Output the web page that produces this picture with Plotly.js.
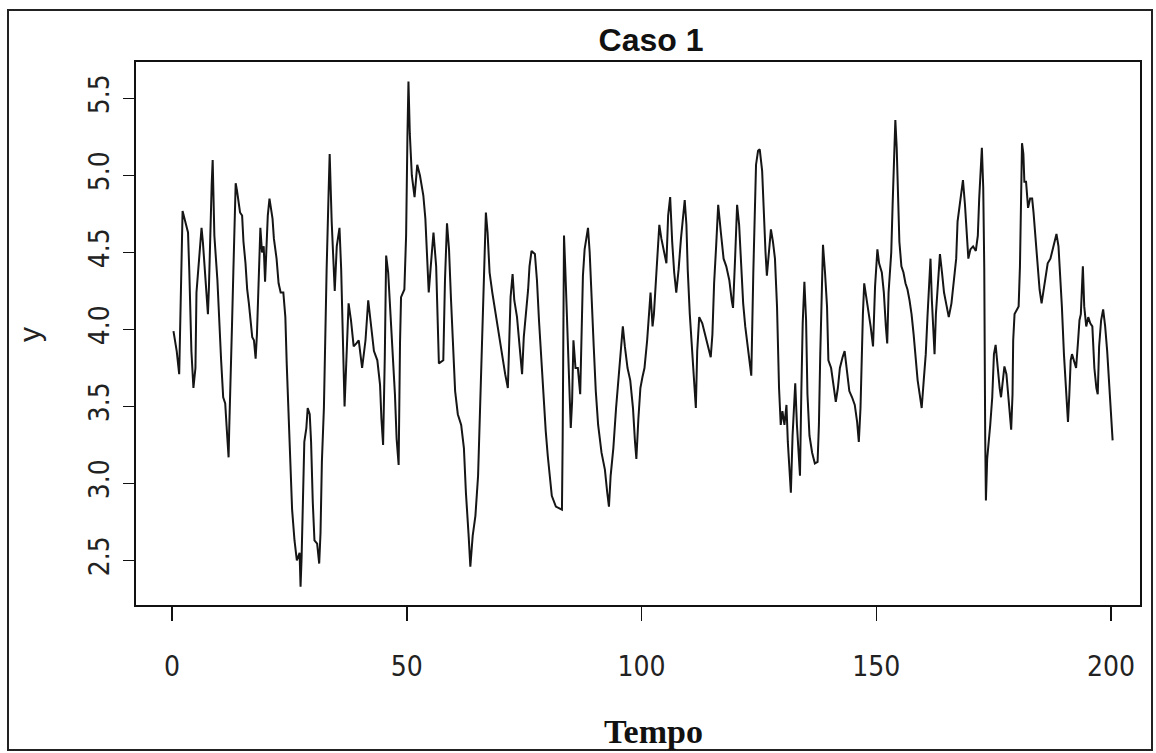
<!DOCTYPE html>
<html>
<head>
<meta charset="utf-8">
<script src="https://cdn.plot.ly/plotly-3.0.1.min.js"></script>
<style>
html,body{margin:0;padding:0;background:#ffffff;}
#chart{width:1156px;height:753px;}
</style>
</head>
<body>
<div id="chart"></div>
<script>
// ---- data ----
const tempo = [
0.31,1.0,1.53,1.97,2.25,2.83,3.41,3.69,4.13,4.56,4.99,5.21,5.71,6.07,6.29,6.57,6.93,7.29,7.65,7.87,
8.09,8.45,8.66,9.02,9.67,10.03,10.46,10.90,11.33,11.69,12.05,12.19,12.55,12.77,13.06,13.34,13.56,13.85,14.21,14.49,
14.93,15.22,15.65,16.01,16.37,16.66,17.09,17.45,17.81,18.09,18.38,18.82,19.17,19.53,19.82,20.11,20.40,20.76,21.12,21.41,
21.70,22.27,22.70,23.14,23.71,24.14,24.43,24.79,25.15,25.58,26.09,26.59,27.17,27.38,27.60,27.89,28.18,28.61,28.90,29.33,
29.62,29.98,30.34,30.91,31.35,31.63,31.92,32.35,32.64,32.93,33.36,33.58,
34.01,34.37,34.66,35.09,35.67,36.03,36.39,36.75,37.11,37.61,38.12,38.69,39.27,39.77,40.49,41.21,41.79,42.29,43.01,43.73,
44.31,44.60,44.96,45.32,45.61,46.04,46.47,46.97,47.48,47.84,48.27,48.56,48.78,49.49,49.86,50.14,50.36,50.65,51.08,51.66,
52.23,52.81,53.53,53.96,54.39,54.68,55.11,55.69,56.26,56.55,56.84,57.78,58.14,58.57,59.00,59.43,59.86,60.30,60.87,61.59,
62.17,62.60,63.18,63.54,64.04,64.62,65.19,65.55,65.84,66.20,66.63,66.85,67.21,67.64,68.22,68.94,
69.52,70.24,70.96,71.53,71.82,72.11,72.54,72.90,73.48,73.98,74.56,74.92,75.42,75.85,76.14,76.57,77.29,77.73,78.16,78.59,
79.02,79.60,80.03,80.46,80.89,81.76,83.05,83.20,83.34,83.49,83.77,84.21,84.64,84.93,85.21,85.50,85.94,86.44,86.94,87.23,
87.52,87.88,88.24,88.60,88.96,89.32,89.82,90.26,90.76,91.48,92.20,92.70,93.06,93.42,94.00,94.58,95.15,95.58,96.02,96.45,
97.02,97.60,98.18,98.61,98.90,99.33,99.76,100.19,100.63,101.20,101.63,101.92,102.35,102.64,103.07,103.50,103.79,104.23,104.70,105.30,
105.67,106.10,106.53,106.96,107.40,107.90,108.40,108.84,109.20,109.56,109.84,110.28,110.78,111.28,111.57,111.86,112.29,112.94,113.66,114.38,
114.74,115.10,115.46,115.89,116.33,116.90,117.48,118.05,118.70,119.21,119.49,119.93,120.36,120.79,121.22,121.65,122.09,122.52,123.02,123.38,
123.81,124.10,124.39,124.82,125.18,125.69,125.98,126.41,126.70,127.13,127.56,127.99,128.42,128.86,129.29,129.65,130.01,130.44,130.87,131.16,
131.52,131.81,132.17,132.46,132.74,133.10,133.46,133.75,134.04,134.33,134.69,135.05,135.34,135.77,136.34,136.92,137.50,137.78,138.07,138.36,
138.65,139.08,139.51,
139.80,140.38,140.88,141.38,141.82,142.25,142.82,143.26,143.76,144.26,144.84,145.42,145.92,146.28,146.64,146.86,147.15,147.43,147.87,148.30,
148.80,149.31,149.74,150.24,150.60,151.18,151.61,152.04,152.33,152.62,152.91,153.19,153.48,153.77,154.06,154.35,154.63,154.92,155.35,155.79,
156.22,156.65,157.08,157.51,157.95,158.38,158.81,159.24,159.67,160.11,160.54,160.90,161.26,161.55,161.84,162.12,162.41,162.70,163.13,163.56,
164.00,164.43,165.00,165.44,166.01,166.59,167.02,167.31,167.74,168.17,168.46,168.89,169.32,169.61,170.04,170.62,171.20,171.63,171.92,172.20,
172.49,172.78,173.00,173.20,173.35,
173.62,173.98,174.27,174.70,175.06,175.42,175.85,176.28,176.57,177.00,177.29,177.72,178.16,178.44,178.73,179.02,179.16,179.45,179.88,180.32,
180.60,180.82,181.04,181.33,181.54,181.90,182.33,182.77,183.20,183.49,183.92,184.35,184.78,185.21,185.65,186.08,186.51,187.09,187.52,187.95,
188.38,188.81,189.10,189.53,189.97,190.40,190.83,191.12,191.41,191.69,192.13,192.56,192.99,193.28,193.57,193.85,194.00,194.29,194.72,195.15,
195.58,196.02,196.45,196.88,197.17,197.46,197.89,198.32,198.75,199.18,199.62,200.05,200.34
];
const y = [
3.99,3.86,3.71,4.49,4.77,4.70,4.63,4.37,3.86,3.62,3.75,4.24,4.46,4.59,4.66,4.57,4.39,4.26,4.10,4.28,
4.59,4.94,5.10,4.61,4.32,4.06,3.80,3.56,3.52,3.34,3.17,3.36,3.69,4.02,4.37,4.76,4.95,4.90,4.83,4.76,
4.74,4.57,4.43,4.26,4.17,4.08,3.95,3.93,3.81,3.97,4.24,4.66,4.50,4.54,4.31,4.52,4.74,4.85,4.77,4.72,
4.59,4.46,4.30,4.24,4.24,4.08,3.78,3.47,3.16,2.83,2.63,2.50,2.55,2.33,2.52,3.01,3.27,3.36,3.49,3.45,
3.27,2.88,2.63,2.61,2.48,2.68,3.14,3.49,3.99,4.39,4.90,5.14,
4.70,4.41,4.25,4.54,4.66,4.39,3.82,3.50,3.78,4.17,4.06,3.89,3.91,3.93,3.75,3.93,4.19,4.06,3.86,3.80,
3.64,3.42,3.25,3.82,4.48,4.37,4.15,3.89,3.58,3.29,3.12,3.91,4.21,4.26,4.61,5.25,5.61,5.27,5.00,4.86,
5.07,5.00,4.87,4.72,4.46,4.24,4.41,4.63,4.41,4.02,3.78,3.80,4.32,4.69,4.52,4.19,3.89,3.60,3.45,3.38,
3.23,2.94,2.66,2.46,2.66,2.79,3.05,3.45,3.82,4.19,4.59,4.76,4.63,4.37,4.24,4.10,
3.97,3.82,3.71,3.62,3.93,4.21,4.36,4.19,4.08,3.93,3.71,3.95,4.10,4.26,4.41,4.51,4.49,4.32,4.06,3.82,
3.58,3.34,3.18,3.05,2.92,2.85,2.83,3.27,4.15,4.61,4.39,3.97,3.58,3.36,3.53,3.93,3.75,3.75,3.58,4.02,
4.35,4.52,4.61,4.66,4.50,4.19,3.89,3.60,3.38,3.20,3.09,2.94,2.85,3.05,3.23,3.49,3.71,3.91,4.02,3.89,
3.75,3.67,3.49,3.27,3.16,3.42,3.62,3.69,3.75,3.93,4.15,4.24,4.02,4.10,4.32,4.57,4.68,4.59,4.52,4.43,
4.74,4.86,4.57,4.37,4.24,4.39,4.59,4.74,4.84,4.68,4.39,4.10,3.86,3.62,3.49,3.86,4.08,4.04,3.95,3.86,
3.82,3.97,4.30,4.54,4.81,4.63,4.46,4.41,4.32,4.19,4.14,4.46,4.81,4.68,4.37,4.17,4.02,3.91,3.80,3.70,
4.37,4.81,5.07,5.16,5.17,5.03,4.76,4.50,4.35,4.52,4.65,4.57,4.46,4.15,3.62,3.38,3.47,3.38,3.51,3.27,
3.07,2.94,3.31,3.51,3.65,3.38,3.20,3.05,3.60,4.04,4.31,4.06,3.58,3.31,3.20,3.13,3.14,3.38,3.84,4.32,
4.55,4.37,4.15,
3.80,3.75,3.64,3.53,3.62,3.75,3.82,3.86,3.73,3.60,3.56,3.51,3.40,3.27,3.49,3.78,4.10,4.30,4.21,4.15,
4.02,3.89,4.28,4.52,4.43,4.37,4.24,4.02,3.91,4.24,4.41,4.50,4.81,5.16,5.36,5.18,4.87,4.57,4.41,4.37,
4.30,4.26,4.19,4.10,3.97,3.80,3.67,3.58,3.49,3.67,3.84,4.08,4.32,4.46,4.19,3.99,3.84,4.10,4.28,4.49,
4.37,4.24,4.15,4.08,4.17,4.32,4.46,4.70,4.81,4.92,4.97,4.81,4.63,4.46,4.52,4.54,4.51,4.61,4.85,5.05,
5.18,4.92,4.40,3.30,2.89,
3.16,3.27,3.38,3.56,3.84,3.90,3.75,3.62,3.56,3.71,3.76,3.71,3.56,3.42,3.35,3.58,3.93,4.10,4.13,4.15,
4.41,4.94,5.21,5.14,4.96,4.96,4.79,4.85,4.85,4.76,4.59,4.39,4.26,4.17,4.26,4.37,4.43,4.46,4.52,4.57,
4.62,4.54,4.39,4.15,3.84,3.58,3.40,3.58,3.80,3.84,3.80,3.75,3.93,4.06,4.10,4.28,4.41,4.15,4.02,4.08,
4.04,4.02,3.75,3.62,3.58,3.89,4.06,4.13,4.02,3.86,3.64,3.40,3.28
];
const xTickVals = [0, 50, 100, 150, 200];
const xTickText = ["0", "50", "100", "150", "200"];
const yTickVals = [2.5, 3.0, 3.5, 4.0, 4.5, 5.0, 5.5];
const yTickText = ["2.5", "3.0", "3.5", "4.0", "4.5", "5.0", "5.5"];
const chartTitle = "Caso 1";
const xAxisTitle = "Tempo";
const yAxisTitle = "y";

// ---- layout ----
const W = 1156, H = 753;
const M = {l: 136, r: 16, t: 62, b: 148};
const plotW = W - M.l - M.r, plotH = H - M.t - M.b;
const px2paperX = p => (p - M.l) / plotW;
const px2paperY = p => (H - M.b - p) / plotH;

const tickFont = {family: "Liberation Sans Narrow, DejaVu Sans Condensed, Liberation Sans, Arial, sans-serif", size: 28, color: "#222"};

const trace = {
  x: tempo, y: y, type: "scatter", mode: "lines",
  line: {color: "#151515", width: 2},
  hoverinfo: "x+y", showlegend: false
};

const layout = {
  width: W, height: H,
  margin: M,
  paper_bgcolor: "#ffffff", plot_bgcolor: "#ffffff",
  title: {
    text: "<b>" + chartTitle + "</b>",
    font: {family: "Liberation Sans, Arial, sans-serif", size: 32, color: "#111"},
    xref: "container", x: 651 / W, xanchor: "center",
    yref: "container", y: 1 - 40 / H, yanchor: "middle"
  },
  xaxis: {
    range: [-7.67, 206.17],
    tickvals: xTickVals, ticktext: xTickText,
    ticks: "outside", ticklen: 14, tickwidth: 1.5, tickcolor: "#111",
    ticklabelstandoff: 21,
    showline: true, mirror: true, linecolor: "#111", linewidth: 2,
    showgrid: false, zeroline: false, tickfont: tickFont, automargin: false
  },
  yaxis: {
    range: [2.211, 5.737],
    tickvals: yTickVals, ticktext: yTickText,
    ticks: "outside", ticklen: 11, tickwidth: 1.5, tickcolor: "#111",
    tickangle: -90, ticklabelstandoff: 3,
    showline: true, mirror: true, linecolor: "#111", linewidth: 2,
    showgrid: false, zeroline: false, tickfont: tickFont, automargin: false
  },
  annotations: [
    {text: "<b>" + xAxisTitle + "</b>", xref: "paper", yref: "paper",
     x: px2paperX(653), y: px2paperY(752), xanchor: "center", yanchor: "bottom",
     showarrow: false, font: {family: "Liberation Serif, Times New Roman, serif", size: 34, color: "#111"}},
    {text: yAxisTitle, xref: "paper", yref: "paper",
     x: px2paperX(30), y: px2paperY(335), xanchor: "center", yanchor: "middle", textangle: -90,
     showarrow: false, font: {family: "Liberation Sans, Arial, sans-serif", size: 30, color: "#222"}}
  ],
  shapes: [
    {type: "rect", xref: "paper", yref: "paper",
     x0: px2paperX(8), x1: px2paperX(1152), y0: px2paperY(750), y1: px2paperY(10),
     line: {color: "#222", width: 2}, fillcolor: "rgba(0,0,0,0)", layer: "below"}
  ]
};

Plotly.newPlot("chart", [trace], layout, {displayModeBar: false, staticPlot: true});
</script>
</body>
</html>
